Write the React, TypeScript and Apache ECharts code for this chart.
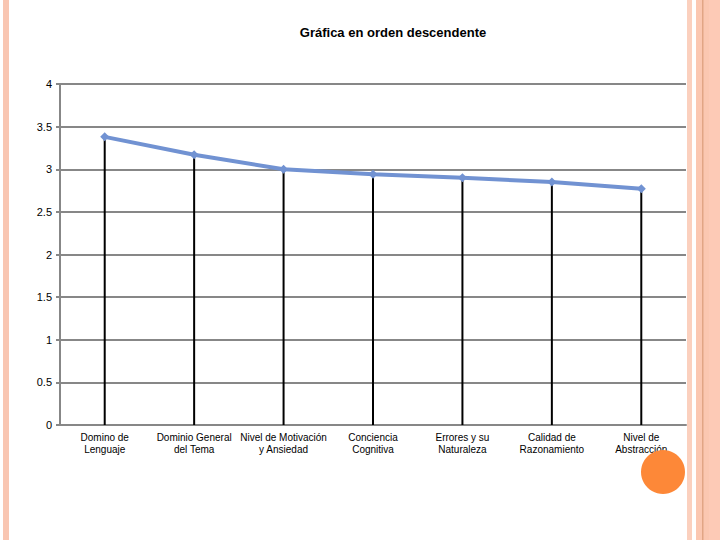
import React, { useEffect, useRef } from "react";
import * as echarts from "echarts";

const categories = [
  "Domino de\nLenguaje",
  "Dominio General\ndel Tema",
  "Nivel de Motivación\ny Ansiedad",
  "Conciencia\nCognitiva",
  "Errores y su\nNaturaleza",
  "Calidad de\nRazonamiento",
  "Nivel de\nAbstracción",
];
const values = [3.38, 3.17, 3.0, 2.94, 2.9, 2.85, 2.77];
const yTicks = { min: 0, max: 4, interval: 0.5 };
const titleText = "Gráfica en orden descendente";

export default function App() {
  const ref = useRef<HTMLDivElement>(null);
  useEffect(() => {
    if (!ref.current) return;
    const chart = echarts.init(ref.current, undefined, { renderer: "svg" });
    chart.setOption({
      animation: false,
      backgroundColor: "#ffffff",
      title: {
        text: titleText,
        left: 388,
        top: 21,
        textAlign: "center",
        textStyle: {
          fontFamily: "Liberation Sans, Arial, sans-serif",
          fontSize: 13,
          fontWeight: "bold",
          color: "#000",
        },
      },
      grid: { left: 60, right: 34, top: 84, bottom: 115, containLabel: false },
      xAxis: {
        type: "category",
        data: categories,
        boundaryGap: true,
        axisLine: { show: true, lineStyle: { color: "#878787", width: 2 } },
        axisTick: { show: false },
        axisLabel: {
          interval: 0,
          margin: 6,
          fontFamily: "Liberation Sans, Arial, sans-serif",
          fontSize: 10,
          lineHeight: 12,
          color: "#000",
        },
        splitLine: { show: false },
      },
      yAxis: {
        type: "value",
        min: yTicks.min,
        max: yTicks.max,
        interval: yTicks.interval,
        axisLine: { show: true, lineStyle: { color: "#878787", width: 2 } },
        axisTick: { show: true, length: 4, lineStyle: { color: "#878787", width: 2 } },
        axisLabel: {
          margin: 8,
          fontFamily: "Liberation Sans, Arial, sans-serif",
          fontSize: 11,
          color: "#000",
        },
        splitLine: { show: true, lineStyle: { color: "#878787", width: 2 } },
      },
      series: [
        {
          type: "bar",
          data: values,
          barWidth: 2,
          itemStyle: { color: "#000" },
          z: 2,
          silent: true,
        },
        {
          type: "line",
          data: values,
          symbol: "diamond",
          symbolSize: 9,
          lineStyle: { color: "#7192d2", width: 4 },
          itemStyle: { color: "#7192d2" },
          z: 3,
        },
      ],
      graphic: [
        { type: "rect", shape: { x: 3, y: 0, width: 6, height: 540 }, style: { fill: "#f9c6b2" }, z: 10 },
        { type: "rect", shape: { x: 687, y: 0, width: 5, height: 540 }, style: { fill: "#fbd0be" }, z: 10 },
        { type: "rect", shape: { x: 696, y: 0, width: 13, height: 540 }, style: { fill: "#fbc7b1" }, z: 10 },
        { type: "rect", shape: { x: 702, y: 0, width: 1.5, height: 540 }, style: { fill: "#e2a585" }, z: 11 },
        { type: "rect", shape: { x: 709, y: 0, width: 11, height: 540 }, style: { fill: "#fdcab6" }, z: 10 },
        { type: "circle", shape: { cx: 663, cy: 472, r: 22 }, style: { fill: "#fd8838" }, z: 12 },
      ],
    });
    return () => chart.dispose();
  }, []);
  return (
    <div
      ref={ref}
      style={{ position: "absolute", left: 0, top: 0, width: 720, height: 540 }}
    />
  );
}
